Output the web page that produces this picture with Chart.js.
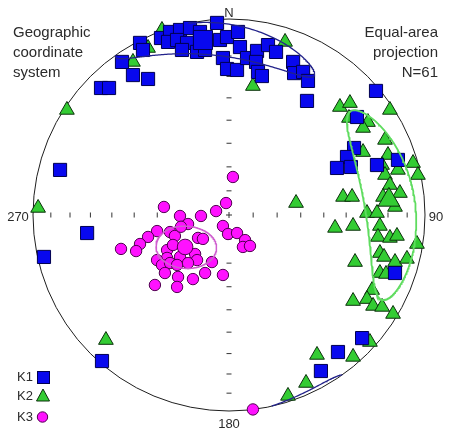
<!DOCTYPE html>
<html>
<head>
<meta charset="utf-8">
<script src="https://cdn.jsdelivr.net/npm/chart.js@4/dist/chart.umd.min.js"></script>
<style>
  html, body { margin: 0; padding: 0; background: #ffffff; }
  #wrap { width: 450px; height: 434px; }
</style>
</head>
<body>
<div id="wrap"><canvas id="stereo" width="450" height="434"></canvas></div>
<script>
// Principal susceptibility axes, lower-hemisphere equal-area projection.
// Positions are projected coordinates in percent of the primitive radius (x = east, y = north).
const k1 = [
  [-65.3, 64.8], [-61.2, 64.8], [-54.6, 78.1], [-49.0, 71.4], [-41.3, 69.4],
  [-45.4, 87.8], [-43.9, 84.2], [-34.7, 90.3], [-30.1, 93.4], [-25.0, 94.4],
  [-19.9, 95.4], [-14.8, 93.4], [-31.1, 88.3], [-26.5, 89.3], [-21.4, 87.8],
  [-16.3, 83.2], [-24.0, 84.2], [-6.1, 98.0], [-4.6, 89.3], [-1.0, 90.8],
  [4.6, 93.4], [5.6, 85.7], [-3.1, 80.1], [-1.0, 74.5], [4.1, 74.0],
  [9.2, 80.1], [14.3, 83.7], [13.8, 78.1], [14.8, 73.0], [16.8, 70.9],
  [19.9, 86.7], [24.0, 83.2], [32.7, 78.1], [33.2, 72.4], [37.8, 73.0],
  [40.3, 68.4], [39.8, 58.2], [75.0, 63.3], [65.3, 50.0], [63.8, 34.2],
  [60.2, 29.6], [55.1, 24.0], [62.2, 24.5], [75.5, 25.5], [86.2, 28.1],
  [84.7, -29.6], [67.9, -62.8], [55.6, -69.9], [46.9, -79.6], [-64.8, -74.5],
  [-86.2, 23.0], [-72.4, -9.2], [-94.4, -21.4], [-12.2, 84.2]
];
const k2 = [
  [-34.2, 94.4], [-41.3, 85.2], [-49.0, 78.1], [28.6, 88.3], [12.2, 65.8],
  [-97.4, 3.6], [-82.7, 53.6], [-62.8, -63.8], [56.6, 55.1], [61.7, 57.1],
  [82.1, 53.6], [61.2, 49.5], [70.9, 47.4], [68.4, 44.4], [79.6, 38.3],
  [68.4, 32.1], [81.1, 30.6], [78.1, 25.5], [86.2, 23.0], [93.9, 26.5],
  [96.4, 20.4], [79.6, 20.4], [82.1, 15.3], [58.2, 9.2], [62.8, 9.2],
  [78.6, 9.2], [87.2, 11.2], [84.7, 4.1], [70.4, 1.0], [75.5, 1.0],
  [54.1, -6.6], [63.3, -5.6], [77.0, -5.6], [76.0, -11.2], [82.1, -11.7],
  [85.7, -10.7], [95.9, -14.8], [77.0, -19.4], [79.1, -21.4], [64.3, -24.0],
  [84.7, -24.0], [90.8, -22.4], [77.0, -29.6], [80.1, -30.1], [73.0, -38.3],
  [70.4, -42.9], [63.3, -43.9], [73.5, -46.4], [78.1, -46.9], [83.7, -50.5],
  [71.9, -64.8], [63.3, -72.4], [44.9, -71.4], [39.3, -85.7], [30.1, -92.3],
  [34.2, 6.1]
];
const k3 = [
  [2.0, 19.4], [-1.5, 6.1], [-6.6, 2.0], [-14.3, -0.5], [-25.0, -0.5],
  [-33.2, 4.1], [-20.9, -4.6], [-3.1, -5.6], [-0.5, -9.7], [4.1, -9.2],
  [8.2, -12.8], [7.1, -16.3], [10.7, -15.8], [-36.7, -8.2], [-30.1, -8.7],
  [-27.6, -10.7], [-41.3, -11.2], [-45.4, -14.8], [-47.4, -18.4], [-55.1, -17.3],
  [-15.8, -11.7], [-13.3, -12.2], [-31.6, -17.9], [-28.6, -15.3], [-25.0, -21.4],
  [-17.3, -19.9], [-16.3, -23.0], [-31.6, -21.9], [-36.7, -23.0], [-34.2, -25.5],
  [-30.1, -24.5], [-26.5, -25.5], [-20.9, -24.5], [-8.7, -24.0], [-32.7, -29.6],
  [-26.0, -31.6], [-18.4, -32.7], [-12.2, -29.6], [-3.1, -30.6], [-37.8, -35.7],
  [-26.5, -36.7], [12.2, -99.2], [-24.5, -6.0]
];

// Mean directions (projected), drawn with enlarged symbols
const k1Mean = [-13.3, 89.3];
const k2Mean = [81.6, 7.7];
const k3Mean = [-22.4, -16.3];

// Confidence cones: [trend, plunge, semi-angle 1, semi-angle 2, rotation] in degrees
const k1Cone = [357, 11, 34, 8.5, -16];
const k2Cone = [85, 18.5, 33.5, 12.8, 8];
const k3Cone = [233, 67.6, 12.6, 8.7, 53];

// Tick marks along the N-S and E-W diameters, every 10 degrees of inclination
const tickAngles = [10, 20, 30, 40, 50, 60, 70, 80];

const D = Math.PI / 180;

function vec(trend, plunge) {
  const t = trend * D, p = plunge * D;
  return [Math.cos(p) * Math.cos(t), Math.cos(p) * Math.sin(t), Math.sin(p)];
}

// Lambert (Schmidt) lower-hemisphere projection, result in percent of radius
function project(v) {
  let [n, e, d] = v;
  if (d < 0) { n = -n; e = -e; d = -d; }
  const k = 100 / Math.sqrt(1 + d);
  return { x: e * k, y: n * k };
}

function conePath(c) {
  const [t, p, a, b, g] = c;
  const m = vec(t, p);
  const u = [-Math.sin(t * D), Math.cos(t * D), 0];
  const w = vec(t, p - 90);
  const cg = Math.cos(g * D), sg = Math.sin(g * D);
  const e1 = u.map((x, i) => x * cg + w[i] * sg);
  const e2 = u.map((x, i) => -x * sg + w[i] * cg);
  const ta = Math.tan(a * D), tb = Math.tan(b * D);
  const pts = [];
  let prev = null;
  for (let i = 0; i <= 360; i++) {
    const f = i * D;
    const v = m.map((x, j) => x + ta * Math.cos(f) * e1[j] + tb * Math.sin(f) * e2[j]);
    const L = Math.hypot(v[0], v[1], v[2]);
    const vn = v.map(x => x / L);
    const s = vn[2] >= 0 ? 1 : -1;
    if (prev !== null && s !== prev) pts.push({ x: null, y: null });
    prev = s;
    pts.push(project(vn));
  }
  return pts;
}

const toXY = arr => arr.map(([x, y]) => ({ x, y }));

// Canvas layout of the projection
const CX = 229, CY = 215, RPX = 196, W = 450, H = 434;

const TEXT = '#2b2b2b';
const FONT = '"Liberation Sans", Arial, sans-serif';

const framePlugin = {
  id: 'stereoFrame',
  beforeDatasetsDraw(chart) {
    const { ctx, scales: { x, y } } = chart;
    const cx = x.getPixelForValue(0), cy = y.getPixelForValue(0);
    const R = x.getPixelForValue(100) - cx;
    ctx.save();
    ctx.strokeStyle = '#1e1e1e';
    ctx.lineWidth = 1;
    ctx.beginPath();
    ctx.arc(cx, cy, R, 0, Math.PI * 2);
    ctx.stroke();

    ctx.strokeStyle = '#333';
    ctx.beginPath();
    const tl = 2.5;
    tickAngles.forEach(a => {
      const r = R * Math.SQRT2 * Math.sin(a * D / 2);
      // E-W diameter: short vertical marks
      ctx.moveTo(cx + r, cy - tl); ctx.lineTo(cx + r, cy + tl);
      ctx.moveTo(cx - r, cy - tl); ctx.lineTo(cx - r, cy + tl);
      // N-S diameter: short horizontal marks
      ctx.moveTo(cx - tl, cy + r); ctx.lineTo(cx + tl, cy + r);
      ctx.moveTo(cx - tl, cy - r); ctx.lineTo(cx + tl, cy - r);
    });
    ctx.moveTo(cx - 3, cy); ctx.lineTo(cx + 3, cy);
    ctx.moveTo(cx, cy - 3); ctx.lineTo(cx, cy + 3);
    ctx.stroke();

    ctx.fillStyle = TEXT;
    ctx.font = '13px ' + FONT;
    ctx.textAlign = 'center';
    ctx.textBaseline = 'middle';
    ctx.fillText('N', cx, cy - R - 6);
    ctx.fillText('180', cx, cy + R + 13);
    ctx.fillText('270', cx - R - 15, cy + 2);
    ctx.fillText('90', cx + R + 11, cy + 2);

    ctx.font = '15px ' + FONT;
    ctx.textAlign = 'left';
    ['Geographic', 'coordinate', 'system'].forEach((s, i) => ctx.fillText(s, 13, 33 + i * 20));
    ctx.textAlign = 'right';
    ['Equal-area', 'projection', 'N=61'].forEach((s, i) => ctx.fillText(s, 438, 33 + i * 20));
    ctx.restore();
  },
  afterDatasetsDraw(chart) {
    const { ctx } = chart;
    ctx.save();
    ctx.fillStyle = TEXT;
    ctx.font = '13px ' + FONT;
    ctx.textAlign = 'left';
    ctx.textBaseline = 'middle';
    const rows = [['K1', 377], ['K2', 396], ['K3', 417]];
    rows.forEach(([s, yy]) => ctx.fillText(s, 17, yy));
    ctx.lineWidth = 1;
    // K1 swatch
    ctx.fillStyle = '#0808ee'; ctx.strokeStyle = '#000050';
    ctx.fillRect(37, 371, 12, 12); ctx.strokeRect(37.5, 371.5, 12, 12);
    // K2 swatch
    ctx.fillStyle = '#33cc33'; ctx.strokeStyle = '#0b300b';
    ctx.beginPath(); ctx.moveTo(43, 389); ctx.lineTo(49.5, 401); ctx.lineTo(36.5, 401); ctx.closePath();
    ctx.fill(); ctx.stroke();
    // K3 swatch
    ctx.fillStyle = '#ff11ff'; ctx.strokeStyle = '#500050';
    ctx.beginPath(); ctx.arc(42.5, 417, 5.2, 0, Math.PI * 2); ctx.fill(); ctx.stroke();
    ctx.restore();
  }
};

const pointSet = (label, data, style, radius, fill, border, order) => ({
  type: 'scatter', label, data, order,
  pointStyle: style, pointRadius: radius, pointHoverRadius: radius,
  backgroundColor: fill, borderColor: border, borderWidth: 1, showLine: false
});

const conePathSet = (label, c, color, width) => ({
  type: 'scatter', label, data: conePath(c), order: 0,
  showLine: true, spanGaps: false, pointRadius: 0, pointHoverRadius: 0,
  borderColor: color, borderWidth: width, backgroundColor: color, tension: 0
});

new Chart(document.getElementById('stereo'), {
  type: 'scatter',
  data: {
    datasets: [
      conePathSet('K1 cone', k1Cone, '#23238a', 1.3),
      conePathSet('K2 cone', k2Cone, '#5fdc5f', 1.8),
      conePathSet('K3 cone', k3Cone, '#cf5fcf', 1.5),
      pointSet('K1 mean', toXY([k1Mean]), 'rect', 13.5, '#0808ee', '#000050', 1),
      pointSet('K1', toXY(k1), 'rect', 9.3, '#0808ee', '#000050', 2),
      pointSet('K2 mean', toXY([k2Mean]), 'triangle', 12.5, '#33cc33', '#0b300b', 3),
      pointSet('K2', toXY(k2), 'triangle', 8.5, '#33cc33', '#0b300b', 4),
      pointSet('K3 mean', toXY([k3Mean]), 'circle', 7.8, '#ff11ff', '#500050', 5),
      pointSet('K3', toXY(k3), 'circle', 5.7, '#ff11ff', '#500050', 6)
    ]
  },
  options: {
    responsive: false,
    animation: false,
    events: [],
    layout: { padding: 0, autoPadding: false },
    plugins: { legend: { display: false }, tooltip: { enabled: false } },
    scales: {
      x: { type: 'linear', display: false, min: -CX / RPX * 100, max: (W - CX) / RPX * 100 },
      y: { type: 'linear', display: false, min: -(H - CY) / RPX * 100, max: CY / RPX * 100 }
    }
  },
  plugins: [framePlugin]
});
</script>
</body>
</html>
